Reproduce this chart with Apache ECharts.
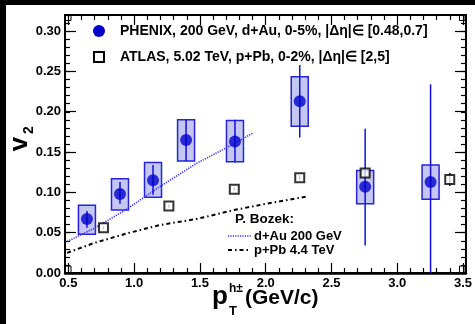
<!DOCTYPE html>
<html><head><meta charset="utf-8">
<script src="https://cdn.jsdelivr.net/npm/echarts@6.0.0/dist/echarts.min.js"></script>
<style>
html,body{margin:0;padding:0;background:#000;}
#bg{position:absolute;left:6px;top:5px;width:469px;height:319px;background:#fff;}
#chart{position:absolute;left:0;top:0;width:475px;height:324px;}
</style></head>
<body><div id="bg"></div><div id="chart"></div>
<script>
// PHENIX d+Au 200 GeV, 0-5%
const phenixX = [0.64, 0.89, 1.14, 1.39, 1.76, 2.25, 2.745, 3.24];
const phenixY = [0.067, 0.098, 0.115, 0.165, 0.163, 0.213, 0.107, 0.113];
const phenixStatLow  = [0.056, 0.086, 0.097, 0.139, 0.137, 0.168, 0.034, 0.0];
const phenixStatHigh = [0.077, 0.113, 0.134, 0.190, 0.190, 0.258, 0.179, 0.234];
const phenixSysLow   = [0.048, 0.078, 0.094, 0.139, 0.138, 0.182, 0.086, 0.0915];
const phenixSysHigh  = [0.084, 0.117, 0.137, 0.190, 0.189, 0.2435, 0.127, 0.134];
// ATLAS p+Pb 5.02 TeV, 0-2%
const atlasX = [0.765, 1.26, 1.755, 2.25, 2.745, 3.385];
const atlasY = [0.056, 0.083, 0.104, 0.118, 0.124, 0.116];
const atlasErr = [0.002, 0.002, 0.002, 0.003, 0.004, 0.008];
// P. Bozek calculations
const bozekDAuX = [0.49, 0.69, 0.94, 1.19, 1.47, 1.75, 1.90];
const bozekDAuY = [0.039, 0.055, 0.079, 0.107, 0.136, 0.160, 0.174];
const bozekPPbX = [0.49, 0.69, 0.94, 1.19, 1.47, 1.75, 2.00, 2.31];
const bozekPPbY = [0.025, 0.037, 0.049, 0.0595, 0.067, 0.078, 0.086, 0.095];
// ticks
const xTickValues = [0.5, 1.0, 1.5, 2.0, 2.5, 3.0, 3.5];
const yTickValues = [0.00, 0.05, 0.10, 0.15, 0.20, 0.25, 0.30];

const FONT = 'Liberation Sans, Arial, Helvetica, sans-serif';
const BLUE = '#0000cc';
const chart = echarts.init(document.getElementById('chart'), null, {renderer:'canvas'});

const boxData = phenixX.map((x,i)=>[x, phenixSysLow[i], phenixSysHigh[i]]);
const statData = phenixX.map((x,i)=>[x, phenixStatLow[i], phenixStatHigh[i]]);
const atlasErrData = atlasX.map((x,i)=>[x, atlasY[i]-atlasErr[i], atlasY[i]+atlasErr[i]]);

const tickLabelStyle = {fontFamily: FONT, fontWeight:'bold', fontSize:13, color:'#000'};

const option = {
  animation:false,
  backgroundColor:'transparent',
  grid:[
    {left:65, right:9, top:15, bottom:51, show:true, borderColor:'#000', borderWidth:2, backgroundColor:'transparent'},
    {left:68.4, right:10, top:15, bottom:51, show:false},
    {left:65, right:9, top:31.1, bottom:51, show:false}
  ],
  xAxis:[
    {gridIndex:0, type:'value', min:0.474, max:3.508, axisLine:{show:true, lineStyle:{color:'#000', width:2.5}}, axisTick:{show:false}, axisLabel:{show:false}, splitLine:{show:false}},
    {gridIndex:1, type:'value', min:0.5, max:3.5, interval:0.5, position:'bottom',
     axisLine:{show:false}, axisTick:{show:true, inside:true, length:10, lineStyle:{color:'#000', width:1.2}},
     minorTick:{show:true, splitNumber:5, length:5, lineStyle:{color:'#000', width:1.2}},
     axisLabel:Object.assign({show:true, margin:4, formatter:v=>{const t=xTickValues.find(a=>Math.abs(a-v)<1e-6);return t===undefined?'':t.toFixed(1);}}, tickLabelStyle),
     splitLine:{show:false}},
    {gridIndex:1, type:'value', min:0.5, max:3.5, interval:0.5, position:'top',
     axisLine:{show:false}, axisTick:{show:true, inside:true, length:10, lineStyle:{color:'#000', width:1.2}},
     minorTick:{show:true, splitNumber:5, length:5, lineStyle:{color:'#000', width:1.2}},
     axisLabel:{show:false}, splitLine:{show:false}},
    {gridIndex:2, type:'value', min:0.5, max:3.5, show:false}
  ],
  yAxis:[
    {gridIndex:0, type:'value', min:0, max:0.32, interval:0.01, position:'left',
     axisLine:{show:false}, axisTick:{show:true, inside:true, length:5, lineStyle:{color:'#000', width:1.2}},
     axisLabel:{show:false}, splitLine:{show:false}},
    {gridIndex:0, type:'value', min:0, max:0.32, interval:0.01, position:'right',
     axisLine:{show:false}, axisTick:{show:true, inside:true, length:5, lineStyle:{color:'#000', width:1.2}},
     axisLabel:{show:false}, splitLine:{show:false}},
    {gridIndex:1, type:'value', min:0, max:0.3, show:false},
    {gridIndex:2, type:'value', min:0, max:0.30, interval:0.05, position:'left',
     axisLine:{show:false}, axisTick:{show:true, inside:true, length:11, lineStyle:{color:'#000', width:1.2}},
     axisLabel:Object.assign({show:true, margin:4, formatter:v=>{const t=yTickValues.find(a=>Math.abs(a-v)<1e-6);return t===undefined?'':t.toFixed(2);}}, tickLabelStyle),
     splitLine:{show:false}},
    {gridIndex:2, type:'value', min:0, max:0.30, interval:0.05, position:'right',
     axisLine:{show:false}, axisTick:{show:true, inside:true, length:11, lineStyle:{color:'#000', width:1.2}},
     axisLabel:{show:false}, splitLine:{show:false}}
  ],
  series:[
    {type:'custom', xAxisIndex:0, yAxisIndex:0, z:2, data:boxData,
     renderItem:(params, api)=>{
       const x=api.value(0), lo=api.value(1), hi=api.value(2);
       const a=api.coord([x,hi]), b=api.coord([x,lo]);
       return {type:'rect', shape:{x:a[0]-8.5, y:a[1], width:17, height:b[1]-a[1]},
               style:{fill:'#c6c6f4', stroke:'#2424d8', lineWidth:1.5}};
     }},
    {type:'line', xAxisIndex:0, yAxisIndex:0, z:3, data:bozekDAuX.map((x,i)=>[x,bozekDAuY[i]]),
     symbol:'none', lineStyle:{color:'#3434ff', width:1.6, type:[1.2,1.2]}},
    {type:'line', xAxisIndex:0, yAxisIndex:0, z:3, data:bozekPPbX.map((x,i)=>[x,bozekPPbY[i]]),
     symbol:'none', lineStyle:{color:'#000', width:2, type:[4,3,1.5,3]}},
    {type:'custom', xAxisIndex:0, yAxisIndex:0, z:4, data:statData,
     renderItem:(params, api)=>{
       const x=api.value(0), lo=api.value(1), hi=api.value(2);
       const a=api.coord([x,hi]), b=api.coord([x,lo]);
       return {type:'line', shape:{x1:a[0], y1:a[1], x2:b[0], y2:b[1]},
               style:{stroke:'#1010d8', lineWidth:1.5}};
     }},
    {type:'custom', xAxisIndex:0, yAxisIndex:0, z:4, data:atlasErrData,
     renderItem:(params, api)=>{
       const x=api.value(0), lo=api.value(1), hi=api.value(2);
       const a=api.coord([x,hi]), b=api.coord([x,lo]);
       return {type:'line', shape:{x1:a[0], y1:a[1], x2:b[0], y2:b[1]},
               style:{stroke:'#000', lineWidth:1.5}};
     }},
    {type:'scatter', xAxisIndex:0, yAxisIndex:0, z:5, data:phenixX.map((x,i)=>[x,phenixY[i]]),
     symbol:'circle', symbolSize:12, itemStyle:{color:BLUE}},
    {type:'scatter', xAxisIndex:0, yAxisIndex:0, z:5, data:atlasX.map((x,i)=>[x,atlasY[i]]),
     symbol:'rect', symbolSize:9, itemStyle:{color:'#fff', borderColor:'#000', borderWidth:2}}
  ],
  graphic:{elements:[
    // corner artifacts
    {type:'rect', shape:{x:65.5, y:266, width:5.5, height:6.5}, style:{fill:'none', stroke:'#000', lineWidth:1}},
    {type:'rect', shape:{x:65.5, y:15, width:5.5, height:5.5}, style:{fill:'none', stroke:'#000', lineWidth:1}},
    {type:'rect', shape:{x:459.5, y:15, width:5.5, height:5.5}, style:{fill:'none', stroke:'#000', lineWidth:1}},
    {type:'rect', shape:{x:459.5, y:266, width:5.5, height:6.5}, style:{fill:'none', stroke:'#000', lineWidth:1}},
    // legend top
    {type:'circle', shape:{cx:99, cy:31, r:6}, style:{fill:BLUE}},
    {type:'rect', shape:{x:94, y:52, width:10, height:10}, style:{fill:'#fff', stroke:'#000', lineWidth:2}},
    {type:'text', x:120, y:31, style:{text:'PHENIX, 200 GeV, d+Au, 0-5%, |\u0394\u03b7|\u2208 [0.48,0.7]', font:'bold 14px '+FONT, fill:'#000', align:'left', verticalAlign:'middle'}},
    {type:'text', x:120, y:57, style:{text:'ATLAS, 5.02 TeV, p+Pb, 0-2%, |\u0394\u03b7|\u2208 [2,5]', font:'bold 14px '+FONT, fill:'#000', align:'left', verticalAlign:'middle'}},
    // legend bozek
    {type:'text', x:235, y:219, style:{text:'P. Bozek:', font:'bold 13.5px '+FONT, fill:'#000', align:'left', verticalAlign:'middle'}},
    {type:'line', shape:{x1:228, y1:236, x2:251, y2:236}, style:{stroke:'#3434ff', lineWidth:1.6, lineDash:[1.2,1.2]}},
    {type:'text', x:254, y:236, style:{text:'d+Au 200 GeV', font:'bold 13px '+FONT, fill:'#000', align:'left', verticalAlign:'middle'}},
    {type:'line', shape:{x1:228, y1:250, x2:251, y2:250}, style:{stroke:'#000', lineWidth:2, lineDash:[4,3,1.5,3]}},
    {type:'text', x:254, y:250, style:{text:'p+Pb 4.4 TeV', font:'bold 13px '+FONT, fill:'#000', align:'left', verticalAlign:'middle'}},
    // y title
    {type:'text', x:20, y:144, rotation:Math.PI/2, style:{text:'v', font:'bold 26px '+FONT, fill:'#000', align:'center', verticalAlign:'middle'}},
    {type:'text', x:29, y:130, rotation:Math.PI/2, style:{text:'2', font:'bold 14px '+FONT, fill:'#000', align:'center', verticalAlign:'middle'}},
    // x title
    {type:'text', x:212, y:297, style:{text:'p', font:'bold 26px '+FONT, fill:'#000', align:'left', verticalAlign:'middle'}},
    {type:'text', x:229, y:311, style:{text:'T', font:'bold 13px '+FONT, fill:'#000', align:'left', verticalAlign:'middle'}},
    {type:'text', x:229, y:289, style:{text:'h\u00b1', font:'bold 12px '+FONT, fill:'#000', align:'left', verticalAlign:'middle'}},
    {type:'text', x:245, y:298, style:{text:'(GeV/c)', font:'bold 21px '+FONT, fill:'#000', align:'left', verticalAlign:'middle'}}
  ]}
};
chart.setOption(option);
</script></body></html>
